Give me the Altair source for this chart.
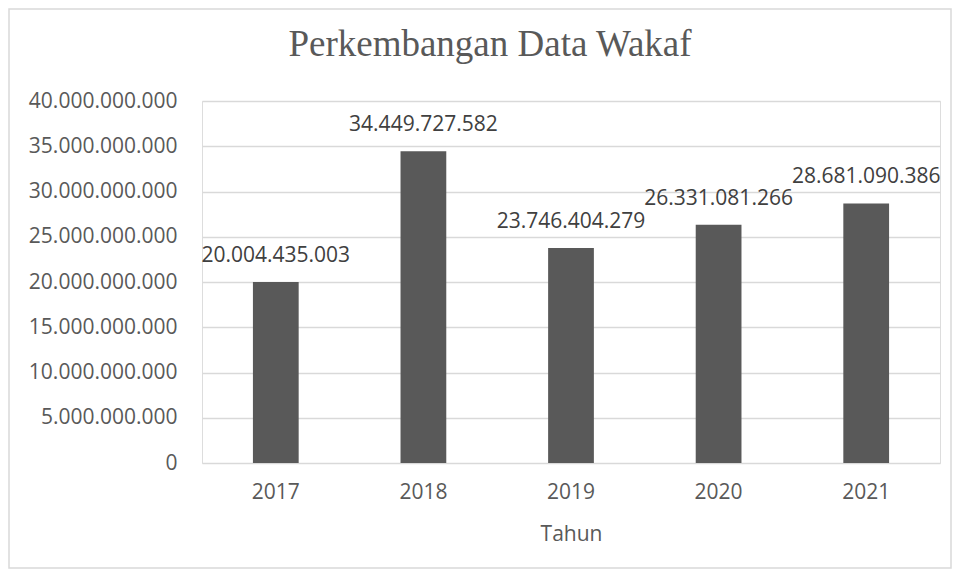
import altair as alt
import pandas as pd

years = ["2017", "2018", "2019", "2020", "2021"]
values = [20004435003, 34449727582, 23746404279, 26331081266, 28681090386]
chart_title = ["Perkembangan Data Wakaf"]

df = pd.DataFrame({"Tahun": years, "Nilai": values})

FONT = "Open Sans"
GREY = "#595959"

base = alt.Chart(df)

bars = base.mark_bar(color="#595959").encode(
    x=alt.X("Tahun:N", sort=years,
            scale=alt.Scale(paddingInner=0.69, paddingOuter=0.345),
            axis=alt.Axis(title="Tahun", labelAngle=0, labelFont=FONT, labelFontSize=21,
                          labelColor=GREY, labelPadding=18, domain=False, ticks=False,
                          titleFont=FONT, titleFontSize=21, titleColor=GREY,
                          titleFontWeight="normal", titlePadding=21)),
    y=alt.Y("Nilai:Q", scale=alt.Scale(domain=[0, 40000000000], nice=False),
            axis=alt.Axis(title=None, values=[i * 5000000000 for i in range(9)],
                          format=",d", labelFont=FONT, labelFontSize=21, labelColor=GREY,
                          labelPadding=25, domain=False, ticks=False,
                          gridColor="#d9d9d9", gridWidth=1.5)),
)

labels = base.mark_text(font=FONT, fontSize=21, color="#404040", baseline="bottom", dy=-16).encode(
    x=alt.X("Tahun:N", sort=years),
    y="Nilai:Q",
    text=alt.Text("Nilai:Q", format=",d"),
)

title = alt.Chart(pd.DataFrame({"t": chart_title})).mark_text(
    font="Liberation Serif", fontSize=37, color=GREY, align="center", baseline="alphabetic"
).encode(
    x=alt.value(288), y=alt.value(-45), text="t:N"
)

border = alt.Chart(pd.DataFrame({"a": [0]})).mark_rect(
    fill=None, stroke="#d9d9d9", strokeWidth=1.5, clip=False
).encode(
    x=alt.value(-193), x2=alt.value(749), y=alt.value(-92), y2=alt.value(467)
)

chart = alt.layer(border, bars, labels, title).properties(
    width=738,
    height=362,
    autosize=alt.AutoSizeParams(type="none"),
    padding={"left": 194, "top": 93, "right": 12, "bottom": 106},
).configure_view(stroke=None).configure(
    locale={"number": {"decimal": ",", "thousands": ".", "grouping": [3], "currency": ["Rp", ""]}}
)

chart.save("out.html", embed_options={"renderer": "svg", "actions": False})
